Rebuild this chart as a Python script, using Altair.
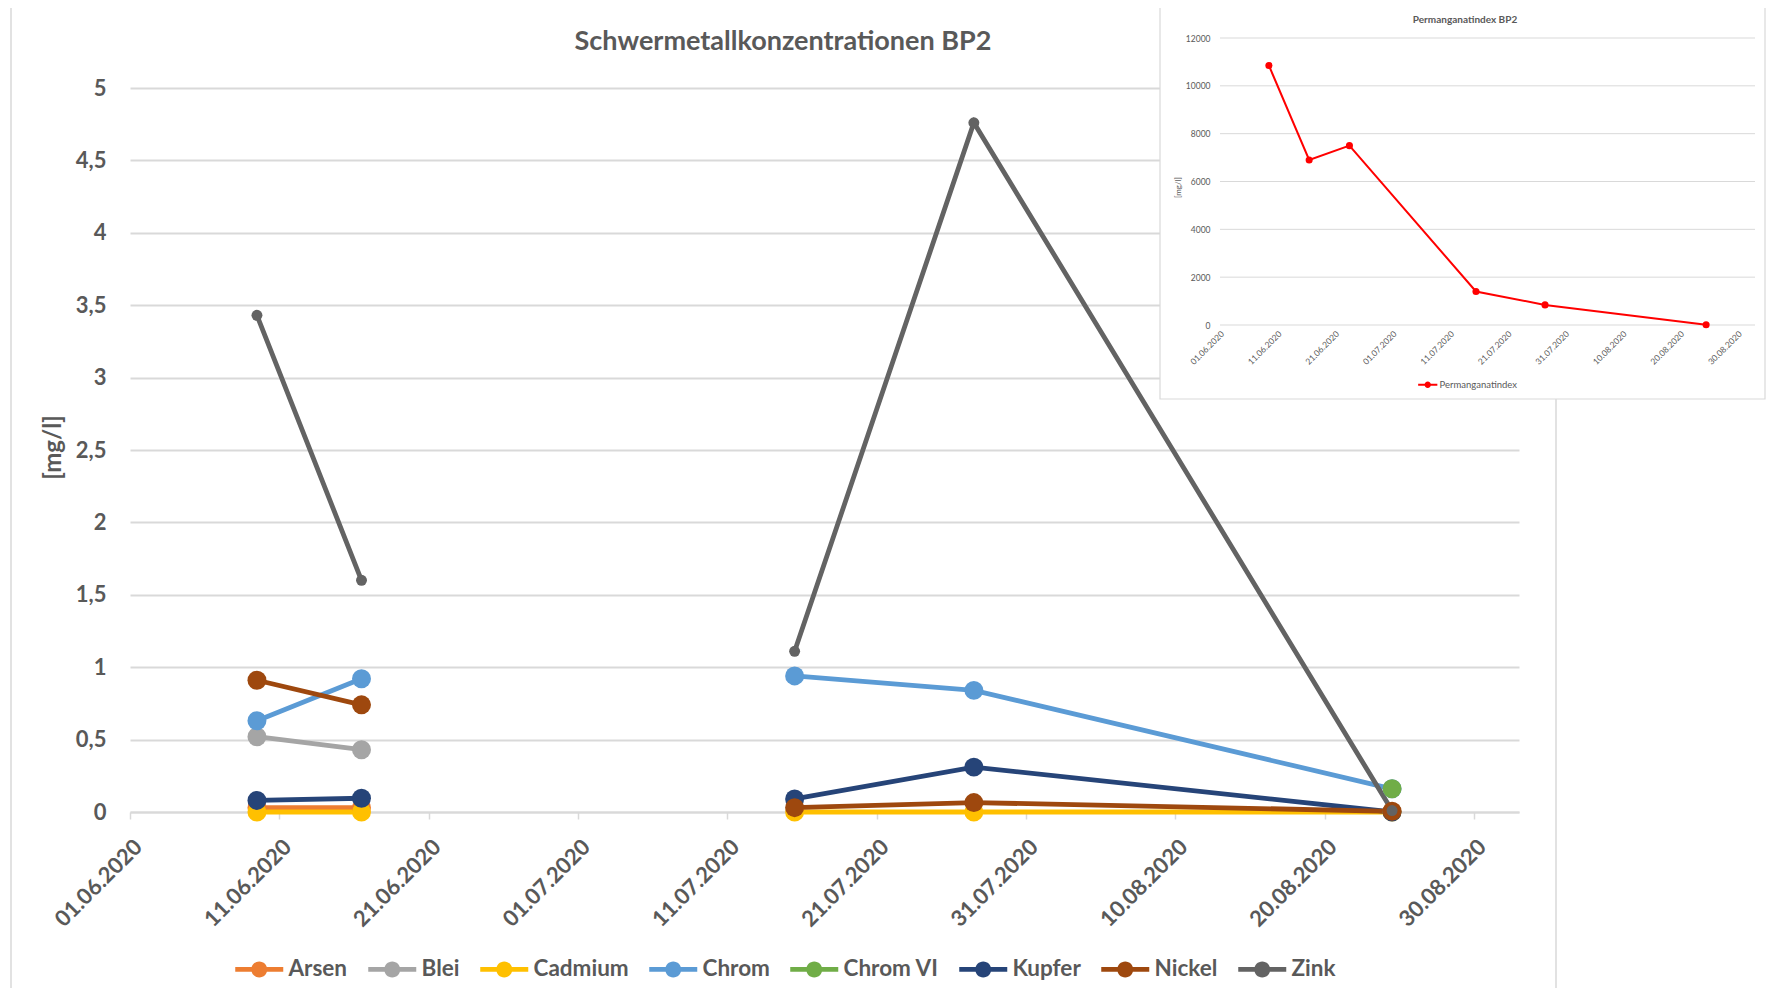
import altair as alt
import pandas as pd

# ---------------- data ----------------
dates = ["09.06.2020", "16.06.2020", "23.06.2020", "15.07.2020", "27.07.2020", "24.08.2020"]
series = ["Arsen", "Blei", "Cadmium", "Chrom", "Chrom VI", "Kupfer", "Nickel", "Zink"]
colors = ["#ED7D31", "#A5A5A5", "#FFC000", "#5B9BD5", "#70AD47", "#264478", "#9E480E", "#636363"]

arsen = [0.03, 0.03, None, None, None, None]
blei = [0.52, 0.43, None, None, None, None]
cadmium = [0.0, 0.0, None, 0.0, 0.0, 0.0]
chrom = [0.63, 0.92, None, 0.94, 0.84, 0.16]
chrom_vi = [None, None, None, None, None, 0.16]
kupfer = [0.08, 0.095, None, 0.09, 0.31, 0.0]
nickel = [0.91, 0.74, None, 0.03, 0.065, 0.005]
zink = [3.43, 1.60, None, 1.11, 4.76, 0.01]

permanganat = [10850, 6900, 7500, 1400, 840, 10]

x_ticks = ["01.06.2020", "11.06.2020", "21.06.2020", "01.07.2020", "11.07.2020",
           "21.07.2020", "31.07.2020", "10.08.2020", "20.08.2020", "30.08.2020"]
y_ticks = [0, 0.5, 1, 1.5, 2, 2.5, 3, 3.5, 4, 4.5, 5]
inset_y_ticks = [0, 2000, 4000, 6000, 8000, 10000, 12000]
x_start = "01.06.2020"
x_end = "02.09.2020"

# ---------------- helpers ----------------
def iso(d):
    day, mon, yr = d.split(".")
    return f"{yr}-{mon}-{day}T12:00:00"  # Excel date axis: points centred in their day


def dt(d):
    day, mon, yr = d.split(".")
    return alt.DateTime(year=int(yr), month=int(mon), date=int(day))


rows = []
for s, vals in zip(series, [arsen, blei, cadmium, chrom, chrom_vi, kupfer, nickel, zink]):
    for d, v in zip(dates, vals):
        rows.append({"Serie": s, "Datum": iso(d), "Wert": v})
df = pd.DataFrame(rows)

inset_df = pd.DataFrame({"Datum": [iso(d) for d in dates], "Wert": permanganat,
                         "Serie": ["Permanganatindex"] * len(dates)})
inset_grid_df = pd.DataFrame({"tick": inset_y_ticks})
one = pd.DataFrame({"k": [0]})

FONT = "Lato"
TXT = "#595959"
GRID = "#d9d9d9"
W, H = 1389, 724
SYMBOL = ("M -3 -0.3 L 3 -0.3 L 3 0.3 L -3 0.3 Z "
          "M 1 0 A 1 1 0 1 1 -1 0 A 1 1 0 1 1 1 0 Z")

# ---------------- main chart ----------------
def x_scale():
    return alt.Scale(domain=[dt(x_start), dt(x_end)], nice=False)


def y_scale():
    return alt.Scale(domain=[0, 5], nice=False)


x_axis = alt.Axis(values=[dt(t) for t in x_ticks], format="%d.%m.%Y", formatType="time",
                  labelAngle=-45, labelAlign="right", labelBaseline="middle",
                  labelFont=FONT, labelFontSize=22, labelFontWeight="bold", labelColor=TXT,
                  labelPadding=24, labelOffset=8, labelFlush=False, labelOverlap=False,
                  tickColor=GRID, tickSize=7, tickWidth=1.5,
                  domainColor=GRID, domainWidth=2, grid=False, title=None,
                  orient="bottom", zindex=0)
y_axis = alt.Axis(values=y_ticks, format="~g", labelExpr="replace(datum.label, '.', ',')",
                  labelFont=FONT, labelFontSize=22, labelFontWeight="bold", labelColor=TXT,
                  labelPadding=24, ticks=False, tickSize=0, domain=False,
                  grid=True, gridColor=GRID, gridWidth=2,
                  title="[mg/l]", titleFont=FONT, titleFontSize=24, titleFontWeight="bold",
                  titleColor=TXT, titleX=-77, titleY=359, titleAngle=270,
                  titleAlign="center", titleBaseline="middle", orient="left", zindex=0)

frame = alt.Chart(one).mark_rect(fill="transparent", stroke=GRID, strokeWidth=1.5).encode(
    x=alt.value(-119), x2=alt.value(1426), y=alt.value(-82), y2=alt.value(1000))

title = alt.Chart(one).mark_text(font=FONT, fontSize=27, fontWeight="bold", color=TXT,
                                 align="center", baseline="middle").encode(
    x=alt.value(653), y=alt.value(-46), text=alt.value("Schwermetallkonzentrationen BP2"))

lines = alt.Chart(df).mark_line(strokeWidth=4.8, invalid="break-paths-filter-domains").encode(
    x=alt.X("Datum:T", scale=x_scale(), axis=x_axis),
    y=alt.Y("Wert:Q", scale=y_scale(), axis=y_axis),
    stroke=alt.Stroke("Serie:N", scale=alt.Scale(domain=series, range=colors), legend=None),
)

points = alt.Chart(df).mark_circle(opacity=1).encode(
    x=alt.X("Datum:T", scale=x_scale(), axis=None),
    y=alt.Y("Wert:Q", scale=y_scale(), axis=None),
    fill=alt.Fill("Serie:N", scale=alt.Scale(domain=series, range=colors),
                  legend=alt.Legend(orient="none", direction="horizontal", columns=8,
                                    legendX=118, legendY=870, title=None, padding=0,
                                    symbolType=SYMBOL, symbolSize=256, symbolStrokeWidth=0,
                                    symbolOpacity=1, labelFont=FONT, labelFontSize=22.5,
                                    labelFontWeight="bold", labelColor=TXT,
                                    labelOffset=18, columnPadding=20)),
    size=alt.condition(alt.datum.Serie == "Zink", alt.value(120), alt.value(360)),
)

# ---------------- inset chart ----------------
def ix_scale():
    return alt.Scale(domain=[dt(x_start), dt(x_end)], range=[1090, 1625], nice=False)


def iy_scale():
    return alt.Scale(domain=[0, 12000], range=[237, -50], nice=False)


ix_axis = alt.Axis(values=[dt(t) for t in x_ticks], format="%d.%m.%Y", formatType="time",
                   labelAngle=-45, labelAlign="right", labelBaseline="middle",
                   labelFont=FONT, labelFontSize=8.5, labelColor=TXT,
                   labelPadding=7, labelOffset=2, labelFlush=False, labelOverlap=False,
                   ticks=False, tickSize=0, domain=False, grid=False, title=None,
                   offset=-487, orient="bottom", zindex=1)
iy_axis = alt.Axis(values=inset_y_ticks, format="d",
                   labelFont=FONT, labelFontSize=8.5, labelColor=TXT, labelPadding=10,
                   ticks=False, tickSize=0, domain=False, grid=False,
                   title="[mg/l]", titleFont=FONT, titleFontSize=8, titleFontWeight="normal",
                   titleColor=TXT, titleX=-42, titleY=99, titleAngle=270,
                   titleAlign="center", titleBaseline="middle",
                   offset=-1090, orient="left", zindex=1)

inset_bg = alt.Chart(one).mark_rect(fill="white", stroke=GRID, strokeWidth=1.2).encode(
    x=alt.value(1030), x2=alt.value(1635), y=alt.value(-82), y2=alt.value(311))

inset_title = alt.Chart(one).mark_text(font=FONT, fontSize=10, fontWeight="bold", color=TXT,
                                       align="center", baseline="middle").encode(
    x=alt.value(1335), y=alt.value(-68), text=alt.value("Permanganatindex BP2"))

inset_grid = alt.Chart(inset_grid_df).mark_rule(color=GRID, strokeWidth=1).encode(
    y=alt.Y("tick:Q", scale=iy_scale(), axis=iy_axis),
    x=alt.value(1090), x2=alt.value(1625))

inset_line = alt.Chart(inset_df).mark_line(strokeWidth=2).encode(
    x=alt.X("Datum:T", scale=ix_scale(), axis=ix_axis),
    y=alt.Y("Wert:Q", scale=iy_scale(), axis=None),
    stroke=alt.Stroke("Serie:N", scale=alt.Scale(domain=["Permanganatindex"], range=["#FF0000"]),
                      legend=None))

inset_points = alt.Chart(inset_df).mark_circle(size=50, opacity=1).encode(
    x=alt.X("Datum:T", scale=ix_scale(), axis=None),
    y=alt.Y("Wert:Q", scale=iy_scale(), axis=None),
    fill=alt.Fill("Serie:N", scale=alt.Scale(domain=["Permanganatindex"], range=["#FF0000"]),
                  legend=alt.Legend(orient="none", legendX=1293, legendY=292, title=None,
                                    padding=0, symbolType=SYMBOL, symbolSize=41,
                                    symbolStrokeWidth=0, symbolOpacity=1,
                                    labelFont=FONT, labelFontSize=9.5, labelColor=TXT,
                                    labelOffset=7)))

chart = alt.layer(
    frame, title, lines, points, inset_bg, inset_grid, inset_title, inset_line, inset_points
).resolve_scale(
    x="independent", y="independent", fill="independent", stroke="independent"
).properties(
    width=W, height=H,
    padding={"left": 122, "top": 80, "right": 247, "bottom": 176},
    autosize=alt.AutoSizeParams(type="none"),
).configure_view(stroke="transparent")

chart.save("out.html", embed_options={"renderer": "svg", "actions": False})
